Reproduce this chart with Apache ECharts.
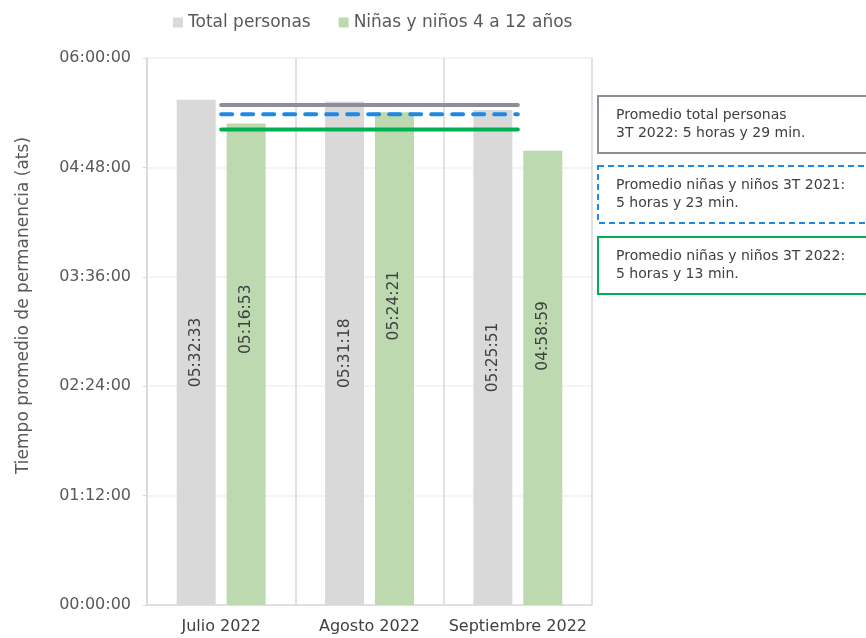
<!DOCTYPE html>
<html>
<head>
<meta charset="utf-8">
<script src="https://cdn.jsdelivr.net/npm/echarts@6/dist/echarts.min.js"></script>
<style>html,body{margin:0;padding:0;background:#fff}#c{width:866px;height:638px}</style>
</head>
<body>
<div id="c"></div>
<script>
// ---- data ----
const categories = ['Julio 2022', 'Agosto 2022', 'Septiembre 2022'];
const seriesNames = ['Total personas', 'Niñas y niños 4 a 12 años'];
const totalPersonas = ['05:32:33', '05:31:18', '05:25:51'];
const ninosNinas = ['05:16:53', '05:24:21', '04:58:59'];
const avgTotal2022 = '05:29:00';
const avgNinos2021 = '05:23:00';
const avgNinos2022 = '05:13:00';
const boxTexts = [
  ['Promedio total personas', '3T 2022: 5 horas y 29 min.'],
  ['Promedio niñas y niños 3T 2021:', '5 horas y 23 min.'],
  ['Promedio niñas y niños 3T 2022:', '5 horas y 13 min.']
];
const yAxisName = 'Tiempo promedio de permanencia (ats)';

// ---- helpers ----
function toSec(s) { const p = s.split(':').map(Number); return p[0]*3600 + p[1]*60 + p[2]; }
function pad(n) { return String(n).padStart(2, '0'); }
function fmt(v) { v = Math.round(v); return pad(Math.floor(v/3600)) + ':' + pad(Math.floor(v%3600/60)) + ':' + pad(v%60); }

const FONT = 'DejaVu Sans';
// label upward shifts (style only)
const greenLabelShift = [45, 53, 42];

const chart = echarts.init(document.getElementById('c'));
function avgLine(name, val, color, type) {
  return {
    name: name, type: 'line', silent: true, symbol: 'none', z: 5,
    data: categories.map(() => toSec(val)),
    lineStyle: { color: color, width: 4, type: type, cap: 'round' }
  };
}
const boxStyles = [
  { stroke: '#8e8e98', dash: null, y: 95 },
  { stroke: '#1e88e5', dash: [6, 4], y: 165 },
  { stroke: '#00b050', dash: null, y: 236 }
];
const graphic = [];
boxStyles.forEach((b, i) => {
  graphic.push({
    type: 'rect', left: 597, top: b.y,
    shape: { width: 290, height: 57 },
    style: { fill: '#fff', stroke: b.stroke, lineWidth: 2, lineDash: b.dash }
  });
  graphic.push({
    type: 'text', left: 616, top: b.y + 11,
    style: { text: boxTexts[i].join('\n'), fill: '#404040', font: '14px "' + FONT + '"', lineHeight: 18 }
  });
});

const labelBase = {
  show: true, position: 'inside', rotate: 90,
  formatter: p => fmt(p.value), color: '#404040', fontSize: 15.5, fontFamily: FONT
};

chart.setOption({
  animation: false,
  textStyle: { fontFamily: FONT },
  legend: {
    data: seriesNames, left: 168, top: 9, icon: 'rect', itemWidth: 10, itemHeight: 10, itemGap: 28,
    textStyle: { color: '#595959', fontSize: 17, fontFamily: FONT }
  },
  grid: { left: 147, right: 274, top: 58, bottom: 33 },
  xAxis: {
    type: 'category', data: categories,
    axisLine: { lineStyle: { color: '#d9d9d9', width: 1.5 } },
    axisTick: { show: false },
    splitLine: { show: true, interval: 0, lineStyle: { color: '#d9d9d9', width: 1.5 } },
    axisLabel: { color: '#404040', fontSize: 16, margin: 14, interval: 0, hideOverlap: false, fontFamily: FONT }
  },
  yAxis: {
    type: 'value', min: 0, max: 21600, interval: 4320,
    name: yAxisName, nameLocation: 'middle', nameGap: 115, nameRotate: 90,
    nameTextStyle: { color: '#595959', fontSize: 17, fontFamily: FONT, padding: [0, 0, 0, 52] },
    axisLine: { show: true, lineStyle: { color: '#d9d9d9', width: 1.5 } },
    axisTick: { show: true, length: 4, inside: false, lineStyle: { color: '#d9d9d9' } },
    splitLine: { show: true, lineStyle: { color: '#f0f0f0', width: 1.5 } },
    axisLabel: { color: '#595959', fontSize: 16, margin: 16, formatter: fmt, fontFamily: FONT }
  },
  series: [
    {
      name: seriesNames[0], type: 'bar', barWidth: 39, barGap: '28%',
      itemStyle: { color: '#d9d9d9' },
      data: totalPersonas.map(toSec),
      label: labelBase
    },
    {
      name: seriesNames[1], type: 'bar', barWidth: 39,
      itemStyle: { color: '#bdd9b0' },
      data: ninosNinas.map((v, i) => ({
        value: toSec(v),
        label: { offset: [greenLabelShift[i], 0] }
      })),
      label: labelBase
    },
    avgLine('avgTotal', avgTotal2022, '#8e8e98', 'solid'),
    avgLine('avgN21', avgNinos2021, '#1e88e5', [11, 10]),
    avgLine('avgN22', avgNinos2022, '#00b050', 'solid')
  ],
  graphic: graphic
});
</script>
</body>
</html>
